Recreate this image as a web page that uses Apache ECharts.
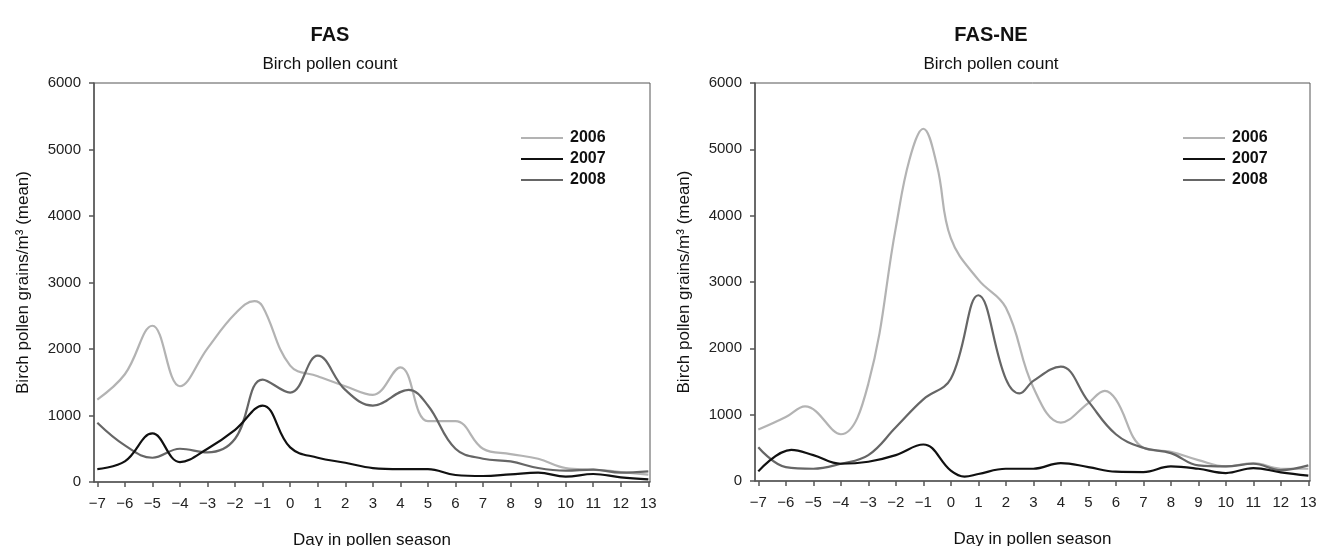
<!DOCTYPE html>
<html>
<head>
<meta charset="utf-8">
<script src="https://cdn.jsdelivr.net/npm/echarts@6/dist/echarts.min.js"></script>
<style>html,body{margin:0;padding:0;background:#fff}#c{width:1317px;height:546px}</style>
</head>
<body>
<div id="c"></div>
<script>
// ---- data ----
const panelTitles = ['FAS', 'FAS-NE'];
const panelSubtitle = 'Birch pollen count';
const years = ['2006', '2007', '2008'];
const dayTicks = [-7,-6,-5,-4,-3,-2,-1,0,1,2,3,4,5,6,7,8,9,10,11,12,13];
const yTicks = [0,1000,2000,3000,4000,5000,6000];

// FAS panel
const fas2006Days = [-7,-6,-5,-4,-3,-2,-1.3,-1,0,1,2,3,4,5,6,7,8,9,10,11,12,13];
const fas2006Vals = [1240,1620,2350,1440,2010,2530,2720,2640,1750,1590,1440,1310,1725,915,915,500,420,350,210,185,150,110];
const fas2007Days = [-7,-6,-5,-4,-3,-2,-1,0,1,2,3,4,5,6,7,8,9,10,11,12,13];
const fas2007Vals = [195,310,730,300,500,785,1150,520,365,290,210,195,195,105,90,115,140,80,120,70,40];
const fas2008Days = [-7,-6,-5,-4,-3,-2,-1,0,1,2,3,4.3,5,6,7,8,9,10,11,12,13];
const fas2008Vals = [890,550,365,500,445,650,1540,1345,1900,1385,1150,1385,1150,500,350,310,210,170,185,140,160];

// FAS-NE panel
const ne2006Days = [-7,-6,-5.3,-4,-3,-2,-1.5,-1,-0.5,0,1,2,3,4,5,5.6,6,7,8,9,10,11,12,13];
const ne2006Vals = [775,965,1125,705,1465,3820,4850,5310,4750,3660,3035,2615,1410,880,1175,1360,1230,500,440,315,220,270,185,185];
const ne2007Days = [-7,-5.8,-5,-4,-3,-2,-1,0,0.5,1,2,3,4,5,6,7,8,9,10,11,12,13];
const ne2007Vals = [145,470,390,260,290,390,550,155,65,105,185,185,270,210,140,135,220,185,120,195,130,80];
const ne2008Days = [-7,-6,-5,-4,-3,-2,-1,0,1,2,2.5,3,4,5,6,7,8,9,10,11,12,13];
const ne2008Vals = [510,210,185,260,390,810,1230,1540,2800,1540,1320,1510,1725,1200,705,500,420,235,220,260,165,235];

const yearColors = ['#b3b3b3', '#111111', '#666666'];

// ---- build ----
const FONT = 'Liberation Sans, Arial, sans-serif';
const pairs = (d, v) => d.map((x, i) => [x, v[i]]);
const panels = [
  {left: 94, width: 556, top: 83, height: 399, titleX: 325, legendX: 521,
   series: [pairs(fas2006Days, fas2006Vals), pairs(fas2007Days, fas2007Vals), pairs(fas2008Days, fas2008Vals)]},
  {left: 755, width: 555, top: 83, height: 398, titleX: 986, legendX: 1183,
   series: [pairs(ne2006Days, ne2006Vals), pairs(ne2007Days, ne2007Vals), pairs(ne2008Days, ne2008Vals)]}
];
const minus = v => String(v).replace('-', '\u2212');

const option = {
  backgroundColor: '#fff',
  animation: false,
  title: [],
  legend: [],
  grid: [],
  xAxis: [],
  yAxis: [],
  series: []
};

panels.forEach((p, k) => {
  option.title.push({
    text: panelTitles[k], subtext: panelSubtitle,
    left: p.titleX, top: 20, textAlign: 'center', itemGap: 11,
    textStyle: {fontFamily: FONT, fontSize: 20, fontWeight: 'bold', color: '#111'},
    subtextStyle: {fontFamily: FONT, fontSize: 17, color: '#111'}
  });
  option.grid.push({left: p.left, top: p.top, width: p.width, height: p.height,
    outerBoundsMode: 'none', containLabel: false,
    show: true, borderColor: '#555', borderWidth: 1, backgroundColor: 'transparent'});
  option.xAxis.push({
    type: 'value', gridIndex: k, min: -7.12, max: 13.06,
    name: 'Day in pollen season', nameLocation: 'middle', nameGap: 50,
    nameTextStyle: {fontFamily: FONT, fontSize: 17, color: '#111'},
    splitLine: {show: false},
    axisLine: {show: true, onZero: false, lineStyle: {color: '#555', width: 1.5}},
    axisTick: {show: true, length: 5, inside: false, customValues: dayTicks, lineStyle: {color: '#555', width: 1.5}},
    axisLabel: {customValues: dayTicks, formatter: minus, margin: 14,
      fontFamily: FONT, fontSize: 15, color: '#222'}
  });
  option.yAxis.push({
    type: 'value', gridIndex: k, min: 0, max: 6000, interval: 1000,
    name: 'Birch pollen grains/m\u00B3 (mean)', nameLocation: 'middle', nameGap: 62,
    nameTextStyle: {fontFamily: FONT, fontSize: 17, color: '#111'},
    splitLine: {show: false},
    axisLine: {show: true, onZero: false, lineStyle: {color: '#555', width: 1.5}},
    axisTick: {show: true, length: 5, lineStyle: {color: '#555', width: 1.5}},
    axisLabel: {margin: 13, formatter: v => String(v), fontFamily: FONT, fontSize: 15, color: '#222'}
  });
  option.legend.push({
    orient: 'vertical', left: p.legendX, top: 130, padding: 0, itemWidth: 42, itemHeight: 2,
    itemGap: 5, icon: 'rect', data: years, selectedMode: false,
    textStyle: {fontFamily: FONT, fontSize: 16, fontWeight: 'bold', color: '#111', padding: [0,0,0,2]}
  });
  years.forEach((y, i) => {
    option.series.push({
      name: y, type: 'line', xAxisIndex: k, yAxisIndex: k,
      data: p.series[i], smooth: 0.4, symbol: 'none', showSymbol: false,
      lineStyle: {color: yearColors[i], width: 2.2}, itemStyle: {color: yearColors[i]},
      z: 3 + (i === 1 ? 1 : 0)
    });
  });
});

const chart = echarts.init(document.getElementById('c'), null, {renderer: 'canvas'});
chart.setOption(option);
</script>
</body>
</html>
